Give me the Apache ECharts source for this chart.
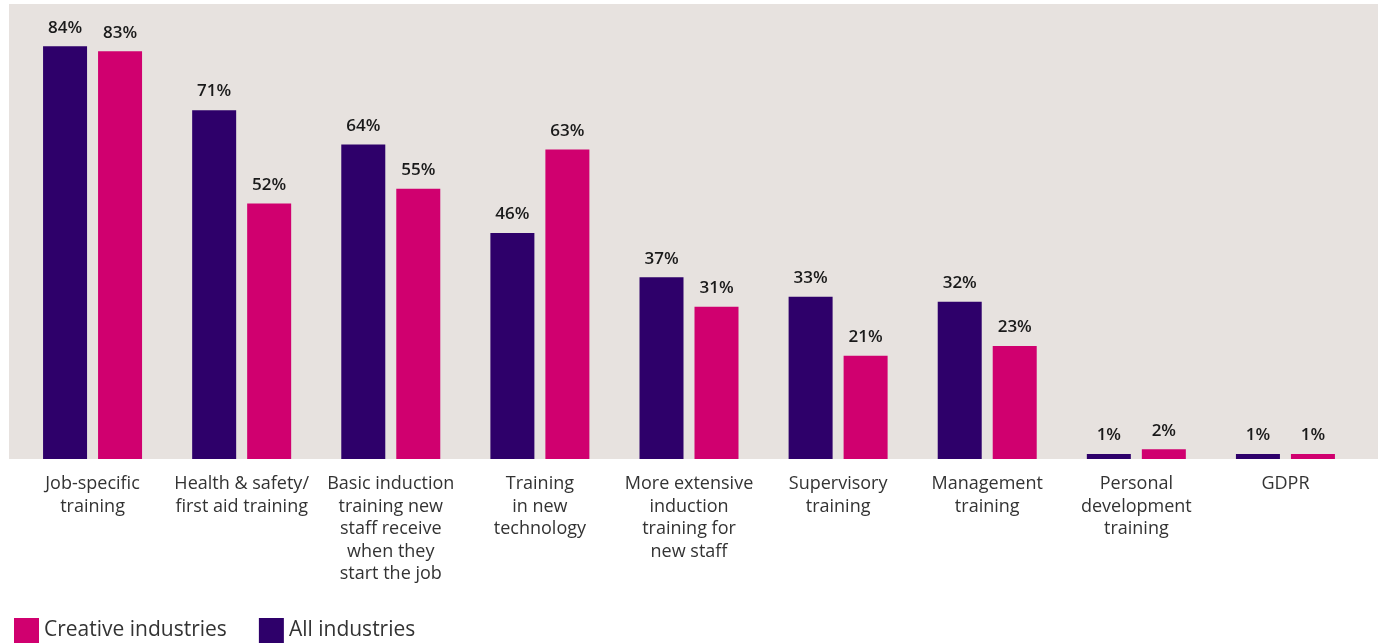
<!DOCTYPE html>
<html><head><meta charset="utf-8">
<script src="https://cdn.jsdelivr.net/npm/echarts@6/dist/echarts.min.js"></script>
<style>html,body{margin:0;padding:0;background:#fff}#c{width:1378px;height:643px}</style>
</head><body><div id="c"></div>
<script>
const categories = [
  "Job-specific\ntraining",
  "Health & safety/\nfirst aid training",
  "Basic induction\ntraining new\nstaff receive\nwhen they\nstart the job",
  "Training\nin new\ntechnology",
  "More extensive\ninduction\ntraining for\nnew staff",
  "Supervisory\ntraining",
  "Management\ntraining",
  "Personal\ndevelopment\ntraining",
  "GDPR"
];
const allIndustries = [84, 71, 64, 46, 37, 33, 32, 1, 1];
const creativeIndustries = [83, 52, 55, 63, 31, 21, 23, 2, 1];

const chart = echarts.init(document.getElementById('c'));
const FONT = 'Open Sans';
const lbl = {show:true, position:'top', distance:10, formatter:'{c}%', color:'#1a1a1a', fontFamily:FONT, fontWeight:600, fontSize:17};
chart.setOption({
  animation:false,
  textStyle:{fontFamily:FONT},
  graphic:[{type:'rect', z:-10, shape:{x:9, y:4, width:1369, height:455}, style:{fill:'#e7e2df'}}],
  grid:{left:18, top:4, width:1342, height:455},
  legend:{
    data:['Creative industries','All industries'],
    left:9, bottom:-5, itemWidth:25, itemHeight:25, itemGap:32, itemTextGap:9,
    icon:'rect',
    textStyle:{fontFamily:FONT, fontSize:21, color:'#333'}
  },
  xAxis:{type:'category', data:categories,
    axisLine:{show:false}, axisTick:{show:false},
    axisLabel:{interval:0, margin:14, color:'#333', fontFamily:FONT, fontSize:18, lineHeight:22.5}},
  yAxis:{type:'value', min:0, max:92.6, show:false, splitLine:{show:false}},
  series:[
    {name:'All industries', type:'bar', data:allIndustries, barWidth:44, barGap:'25%', itemStyle:{color:'#2e006a'}, label:lbl},
    {name:'Creative industries', type:'bar', data:creativeIndustries, barWidth:44, itemStyle:{color:'#d0006f'}, label:lbl}
  ]
});
</script></body></html>
